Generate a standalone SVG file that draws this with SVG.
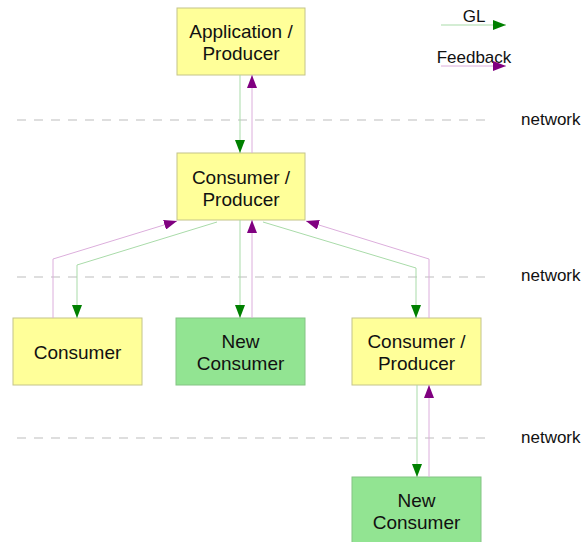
<svg xmlns="http://www.w3.org/2000/svg" width="588" height="542" viewBox="0 0 588 542">
<style>
.y{fill:#ffff99;stroke:#c4c48a;stroke-width:1}
.g{fill:#92e492;stroke:#84c484;stroke-width:1}
.t{font-family:"Liberation Sans",Arial,sans-serif;font-size:19px;fill:#111;text-anchor:middle}
.l{font-family:"Liberation Sans",Arial,sans-serif;font-size:17px;fill:#111;text-anchor:middle}
.n{font-family:"Liberation Sans",Arial,sans-serif;font-size:17px;fill:#111}
.dash{stroke:#bdbdbd;stroke-width:1;stroke-dasharray:9,8;fill:none}
.gl{stroke:#a9dba9;stroke-width:1;fill:none;marker-end:url(#ag)}
.fb{stroke:#dcaedc;stroke-width:1;fill:none;marker-end:url(#ap)}
</style>
<defs>
<marker id="ag" markerUnits="userSpaceOnUse" markerWidth="13" markerHeight="10" refX="13" refY="5" orient="auto"><path d="M0,0 L13,5 L0,10 z" fill="#008000"/></marker>
<marker id="ap" markerUnits="userSpaceOnUse" markerWidth="13" markerHeight="10" refX="13" refY="5" orient="auto"><path d="M0,0 L13,5 L0,10 z" fill="#800080"/></marker>
</defs>
<rect width="588" height="542" fill="#fff"/>
<g id="networks">
<line class="dash" x1="17" y1="120" x2="492" y2="120"/>
<line class="dash" x1="17" y1="277" x2="492" y2="277"/>
<line class="dash" x1="17" y1="438" x2="492" y2="438"/>
<text class="n" x="521" y="125">network</text>
<text class="n" x="521" y="281">network</text>
<text class="n" x="521" y="443">network</text>
</g>
<g id="legend">
<text class="l" x="474" y="22">GL</text>
<line class="gl" x1="441" y1="25" x2="506" y2="25"/>
<text class="l" x="474" y="63">Feedback</text>
<line class="fb" x1="441" y1="66" x2="506" y2="66"/>
</g>
<g id="app">
<rect class="y" x="177" y="8" width="128" height="67"/>
<text class="t" x="241" y="38">Application /</text>
<text class="t" x="241" y="60">Producer</text>
</g>
<g id="cp1">
<rect class="y" x="177" y="153" width="128" height="67"/>
<text class="t" x="241" y="184">Consumer /</text>
<text class="t" x="241" y="206">Producer</text>
</g>
<g id="consumer">
<rect class="y" x="13" y="318" width="129" height="67"/>
<text class="t" x="77.5" y="359">Consumer</text>
</g>
<g id="new1">
<rect class="g" x="176" y="318" width="129" height="67"/>
<text class="t" x="240.5" y="348">New</text>
<text class="t" x="240.5" y="370">Consumer</text>
</g>
<g id="cp2">
<rect class="y" x="352" y="318" width="129" height="67"/>
<text class="t" x="416.5" y="348">Consumer /</text>
<text class="t" x="416.5" y="370">Producer</text>
</g>
<g id="new2">
<rect class="g" x="352" y="477" width="129" height="67"/>
<text class="t" x="416.5" y="507">New</text>
<text class="t" x="416.5" y="529">Consumer</text>
</g>
<g id="connectors">
<path class="gl" d="M240,75 L240,153"/>
<path class="fb" d="M252,153 L252,75"/>
<path class="gl" d="M217,222 L77,265 L77,318"/>
<path class="fb" d="M53,318 L53,259 L177,221"/>
<path class="gl" d="M240,220 L240,318"/>
<path class="fb" d="M252,318 L252,220"/>
<path class="gl" d="M263,222 L416,268 L416,318"/>
<path class="fb" d="M429,318 L429,259 L306,221"/>
<path class="gl" d="M417,385 L417,477"/>
<path class="fb" d="M429,477 L429,385"/>
</g>
</svg>
